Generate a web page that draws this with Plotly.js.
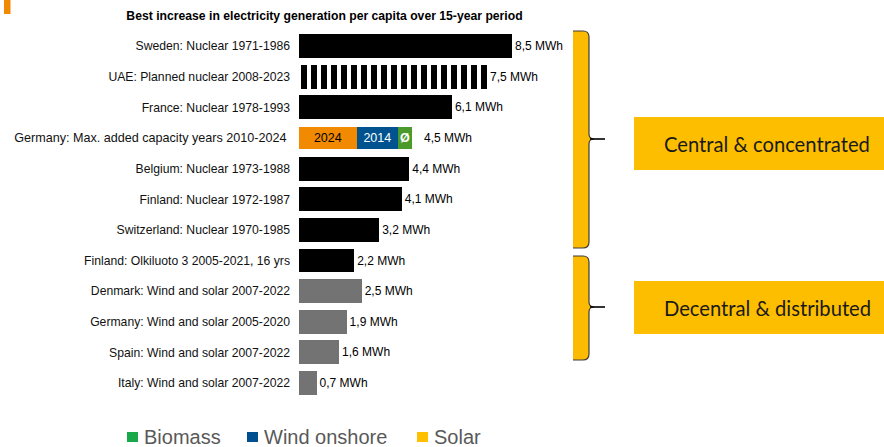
<!DOCTYPE html>
<html>
<head>
<meta charset="utf-8">
<script src="https://cdn.plot.ly/plotly-3.0.1.min.js"></script>
<style>
  html, body { margin: 0; padding: 0; background: #fff; }
  #chart { width: 884px; height: 447px; }
</style>
</head>
<body>
<div id="chart"></div>
<script>
// Category order, top to bottom
const categories = [
  'Sweden: Nuclear 1971-1986',
  'UAE: Planned nuclear 2008-2023',
  'France: Nuclear 1978-1993',
  'Germany: Max. added capacity years 2010-2024',
  'Belgium: Nuclear 1973-1988',
  'Finland: Nuclear 1972-1987',
  'Switzerland: Nuclear 1970-1985',
  'Finland: Olkiluoto 3 2005-2021, 16 yrs',
  'Denmark: Wind and solar 2007-2022',
  'Germany: Wind and solar 2005-2020',
  'Spain: Wind and solar 2007-2022',
  'Italy: Wind and solar 2007-2022'
];

// Increase in generation per capita, MWh
const nuclearCats = [
  'Sweden: Nuclear 1971-1986',
  'France: Nuclear 1978-1993',
  'Belgium: Nuclear 1973-1988',
  'Finland: Nuclear 1972-1987',
  'Switzerland: Nuclear 1970-1985',
  'Finland: Olkiluoto 3 2005-2021, 16 yrs'
];
const nuclearValues = [8.5, 6.1, 4.4, 4.1, 3.2, 2.2];

const plannedCats = ['UAE: Planned nuclear 2008-2023'];
const plannedValues = [7.5];

const windSolarCats = [
  'Denmark: Wind and solar 2007-2022',
  'Germany: Wind and solar 2005-2020',
  'Spain: Wind and solar 2007-2022',
  'Italy: Wind and solar 2007-2022'
];
const windSolarValues = [2.5, 1.9, 1.6, 0.7];

// Germany: best year per technology (solar 2024, wind onshore 2014, biomass average)
const germanyCat = 'Germany: Max. added capacity years 2010-2024';
const germanySegLabels = ['2024', '2014', 'Ø'];
const germanySegValues = [2.3, 1.65, 0.55];

const legendLabels = ['Biomass', 'Wind onshore', 'Solar'];
const groupLabels = ['Central & concentrated', 'Decentral & distributed'];

const W = 884, H = 447;
const FONT = 'Liberation Sans, Arial, sans-serif';
const fmt = v => v.toFixed(1).replace('.', ',') + ' MWh';

// pixel -> paper helpers
const px = x => x / W;
const py = y => 1 - y / H;
const path = pts => pts.map(p => {
  if (typeof p === 'string') return p;
  return px(p[0]).toFixed(5) + ',' + py(p[1]).toFixed(5);
}).join(' ');

const valueFont = {family: FONT, size: 12, color: '#000'};

const traces = [
  {
    type: 'bar', orientation: 'h', y: nuclearCats, x: nuclearValues,
    marker: {color: '#000000'}, width: 0.78,
    text: nuclearValues.map(fmt), textposition: 'outside', cliponaxis: false,
    outsidetextfont: valueFont, hoverinfo: 'x+y'
  },
  {
    type: 'bar', orientation: 'h', y: plannedCats, x: plannedValues,
    marker: {color: '#000000', pattern: {shape: '|', fgcolor: '#000000', bgcolor: '#ffffff', size: 10, solidity: 0.6}},
    width: 0.78,
    text: plannedValues.map(fmt), textposition: 'outside', cliponaxis: false,
    outsidetextfont: valueFont, hoverinfo: 'x+y'
  },
  {
    type: 'bar', orientation: 'h', y: windSolarCats, x: windSolarValues,
    marker: {color: '#737373'}, width: 0.78,
    text: windSolarValues.map(fmt), textposition: 'outside', cliponaxis: false,
    outsidetextfont: valueFont, hoverinfo: 'x+y'
  }
];

const segColors = ['#F18A00', '#00538E', '#4A9A2C'];
const segTextColors = ['#000000', '#ffffff', '#ffffff'];
germanySegValues.forEach((v, i) => {
  traces.push({
    type: 'bar', orientation: 'h', y: [germanyCat], x: [v],
    marker: {color: segColors[i]}, width: 0.73,
    text: [germanySegLabels[i]], textposition: 'inside', insidetextanchor: 'middle',
    textangle: 0, constraintext: 'none',
    insidetextfont: {family: FONT, size: 12.5, color: segTextColors[i], weight: i === 2 ? 'bold' : 'normal'},
    hoverinfo: 'x+y'
  });
});

const germanyTotal = germanySegValues.reduce((a, b) => a + b, 0);

// tick labels: the Germany row is set a touch larger and further from the bar
const tickText = categories.map(c => c === germanyCat
  ? '<span style="font-size:12.6px">' + c + '\u00a0</span>'
  : c);

const annotations = [
  {
    xref: 'x', yref: 'y', x: germanyTotal, y: germanyCat,
    xanchor: 'left', yanchor: 'middle', xshift: 10, showarrow: false,
    text: fmt(germanyTotal), font: valueFont
  },
  // group boxes text
  {
    xref: 'paper', yref: 'paper', x: px(662), y: py(144), xanchor: 'left', yanchor: 'middle',
    showarrow: false, text: groupLabels[0],
    font: {family: 'Lato, Open Sans, sans-serif', size: 20.2, color: '#1a1a1a'}
  },
  {
    xref: 'paper', yref: 'paper', x: px(662), y: py(308), xanchor: 'left', yanchor: 'middle',
    showarrow: false, text: groupLabels[1],
    font: {family: 'Lato, Open Sans, sans-serif', size: 20.2, color: '#1a1a1a'}
  }
];

// bottom legend
const legendColors = ['#19A84A', '#00508F', '#FFC000'];
const legendSquareX = [127, 247, 417];
const legendTextX = [142, 262, 432];
const shapes = [];
legendLabels.forEach((lab, i) => {
  shapes.push({
    type: 'rect', xref: 'paper', yref: 'paper',
    x0: px(legendSquareX[i]), x1: px(legendSquareX[i] + 11), y0: py(442), y1: py(432),
    fillcolor: legendColors[i], line: {width: 0}
  });
  annotations.push({
    xref: 'paper', yref: 'paper', x: px(legendTextX[i]), y: py(437),
    xanchor: 'left', yanchor: 'middle', showarrow: false, text: lab,
    font: {family: FONT, size: 20, color: '#595959'}
  });
});

// group boxes
[[117, 170], [281, 334]].forEach(([t, b]) => {
  shapes.push({
    type: 'rect', xref: 'paper', yref: 'paper',
    x0: px(634), x1: px(884), y0: py(b), y1: py(t),
    fillcolor: '#FDBE00', line: {width: 0}, layer: 'below'
  });
});

// curly braces (filled) with tips
function brace(top, bottom, mid) {
  const xl = 573, xr = 589, r = 6;
  const pts = [
    'M', [xl, top], 'L', [xr - r, top], 'Q', [xr, top], [xr, top + r],
    'L', [xr, mid - 5], 'Q', [xr, mid], [xr + 5, mid], 'Q', [xr, mid], [xr, mid + 5],
    'L', [xr, bottom - r], 'Q', [xr, bottom], [xr - r, bottom], 'L', [xl, bottom]
  ];
  shapes.push({
    type: 'path', xref: 'paper', yref: 'paper', path: path(pts) + ' Z',
    fillcolor: '#FCBA00', line: {width: 0}
  });
  shapes.push({
    type: 'path', xref: 'paper', yref: 'paper', path: path(pts),
    fillcolor: 'rgba(0,0,0,0)', line: {color: '#3d3d3d', width: 1.2}
  });
  shapes.push({
    type: 'line', xref: 'paper', yref: 'paper',
    x0: px(xr + 1), x1: px(605), y0: py(mid), y1: py(mid),
    line: {color: '#000', width: 1.6}
  });
}
brace(31, 248, 139);
brace(256, 360, 307);

// orange corner marker
shapes.push({
  type: 'rect', xref: 'paper', yref: 'paper',
  x0: px(4), x1: px(10.5), y0: py(14), y1: py(0),
  fillcolor: '#F18A00', line: {width: 0}
});

const plotTop = 30.7, rowH = 30.64;
const plotBottom = plotTop + rowH * categories.length;
const x0px = 299, unitPx = 25.06, xMax = 10;

const layout = {
  width: W, height: H,
  margin: {l: 0, r: 0, t: 0, b: 0, pad: 0},
  paper_bgcolor: '#ffffff', plot_bgcolor: 'rgba(0,0,0,0)',
  showlegend: false,
  barmode: 'stack',
  bargap: 0.2,
  title: {
    text: '<b>Best increase in electricity generation per capita over 15-year period</b>',
    x: px(324.5), xanchor: 'center', xref: 'paper',
    y: py(16), yanchor: 'middle', yref: 'paper',
    font: {family: FONT, size: 12.2, color: '#000'}
  },
  xaxis: {
    domain: [px(x0px), px(x0px + unitPx * xMax)],
    range: [0, xMax], visible: false, fixedrange: true
  },
  yaxis: {
    domain: [py(plotBottom), py(plotTop)],
    type: 'category', categoryorder: 'array', categoryarray: categories,
    tickmode: 'array', tickvals: categories, ticktext: tickText,
    range: [categories.length - 0.5, -0.5],
    showline: false, showgrid: false, zeroline: false, ticks: '',
    ticklabelstandoff: 8,
    tickfont: {family: FONT, size: 12.2, color: '#111'}
  },
  annotations: annotations,
  shapes: shapes
};

Plotly.newPlot('chart', traces, layout, {displayModeBar: false, staticPlot: true});
</script>
</body>
</html>
